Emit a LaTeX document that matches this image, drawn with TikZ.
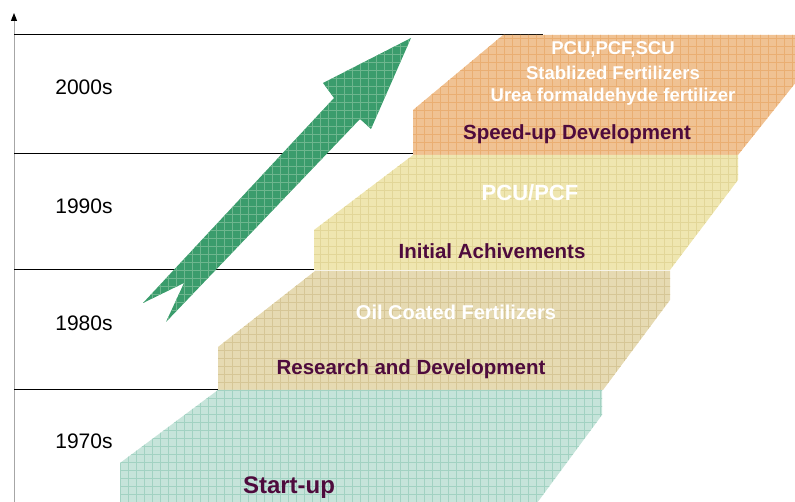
\documentclass[tikz,border=0pt]{standalone}
\usepackage{fontspec}
\setmainfont{Liberation Sans}
\usetikzlibrary{patterns.meta,arrows.meta}

\definecolor{orangeblk}{HTML}{F0C293}
\definecolor{orangegrid}{HTML}{EAAE72}
\definecolor{yellowblk}{HTML}{EFE6B0}
\definecolor{yellowgrid}{HTML}{E2D698}
\definecolor{tanblk}{HTML}{E6DAB2}
\definecolor{tangrid}{HTML}{D6C696}
\definecolor{tealblk}{HTML}{C6E4DA}
\definecolor{tealgrid}{HTML}{A2D2C2}
\definecolor{arrowgreen}{HTML}{3A9C6C}
\definecolor{arrowgrid}{HTML}{6DB68E}
\definecolor{labelpurple}{HTML}{4E0B3D}

\tikzset{
  plaid/.style={pattern={Hatch[distance=8pt,angle=0,line width=0.6pt]},pattern color=#1},
  block/.style 2 args={fill=#1,postaction={plaid=#2}},
  year/.style={font=\fontsize{21}{24}\selectfont},
  title/.style={text=white,font=\bfseries\fontsize{18.5}{24}\selectfont,align=center},
  stage/.style={text=labelpurple,font=\bfseries\fontsize{20.5}{22}\selectfont},
}

\begin{document}
\begin{tikzpicture}[x=1pt,y=-1pt]
  \useasboundingbox (0,0) rectangle (795,502);

  % time axis
  \coordinate (axisbottom) at (14,502);
  \coordinate (axistop) at (14,13);
  \draw[gray!70, line width=1pt, -{Triangle[black,length=8pt,width=6pt]}] (axisbottom) -- (axistop);
  \draw[line width=1pt] (14,35) -- (543,35);   %top of 2000s
  \draw[line width=1pt] (14,154) -- (413,154); %2000s / 1990s
  \draw[line width=1pt] (14,270) -- (314,270); %1990s / 1980s
  \draw[line width=1pt] (14,390) -- (270,390); %1980s / 1970s

  \node[year] (y2000) at (84,87) {2000s};
  \node[year] (y1990) at (84,206) {1990s};
  \node[year] (y1980) at (84,323) {1980s};
  \node[year] (y1970) at (84,441) {1970s};

  % steps
  \path[block={orangeblk}{orangegrid}] (413,155) -- (413,110) -- (503,35) -- (797,35) -- (797,81) -- (738,155) -- cycle;
  \path[block={yellowblk}{yellowgrid}] (314,270) -- (314,230) -- (413,155) -- (738,155) -- (738,180) -- (670,270) -- cycle;
  \path[block={tanblk}{tangrid}] (218,390) -- (218,347) -- (315,271) -- (670,271) -- (670,300) -- (603,390) -- cycle;
  \path[block={tealblk}{tealgrid}] (120,503) -- (120,463) -- (218,390) -- (602,390) -- (602,415) -- (537,503) -- cycle;

  % growth arrow
  \path[block={arrowgreen}{arrowgrid}] (411,38) -- (371,129) -- (360,119) -- (166,322) -- (184,283)
        -- (143,303) -- (334,98) -- (323,83) -- cycle;

  % 2000s
  \node[title] (pcu) at (613,49) {PCU,PCF,SCU};
  \node[title] (stab) at (613,73) {Stablized Fertilizers};
  \node[title] (urea) at (613,97) {Urea formaldehyde fertilizer};
  \node[stage] (speed) at (577,134) {Speed-up Development};

  % 1990s
  \node[title, font=\bfseries\fontsize{22}{24}\selectfont] (pcupcf) at (530,193) {PCU/PCF};
  \node[stage] (initial) at (492,251) {Initial Achivements};

  % 1980s
  \node[title, font=\bfseries\fontsize{20}{24}\selectfont] (oil) at (456,312) {Oil Coated Fertilizers};
  \node[stage] (research) at (411,369) {Research and Development};

  % 1970s
  \node[stage, font=\bfseries\fontsize{24}{26}\selectfont] (start) at (289,488) {Start-up};
\end{tikzpicture}
\end{document}
